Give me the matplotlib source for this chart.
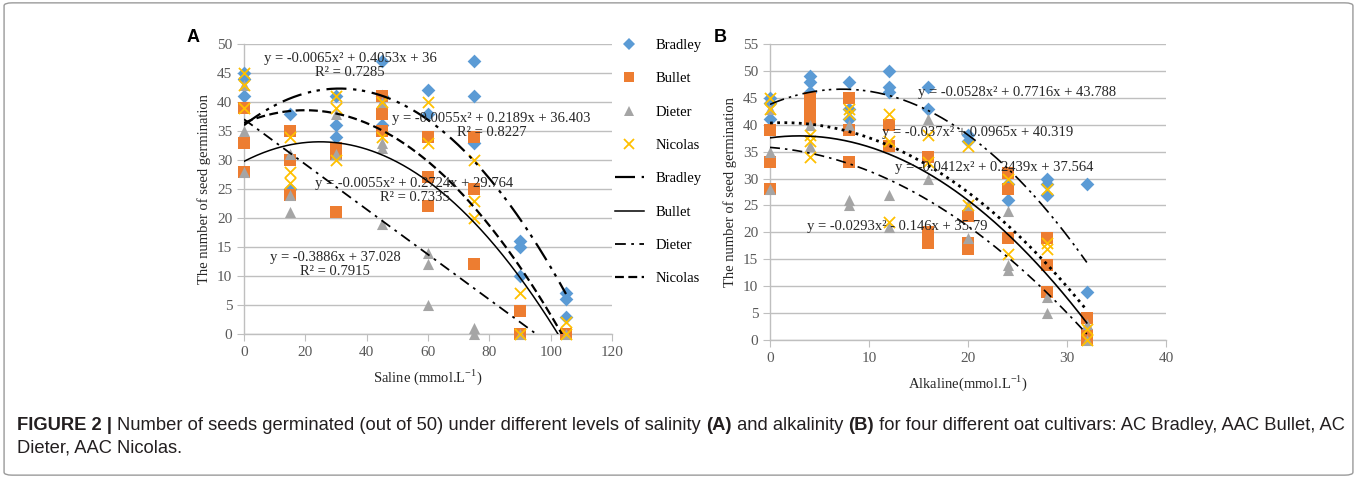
import matplotlib
matplotlib.use('Agg')
import numpy as np
import matplotlib.pyplot as plt
from matplotlib.lines import Line2D
from matplotlib.patches import FancyBboxPatch

plt.rcParams['font.family'] = ['Liberation Serif', 'DejaVu Serif']
plt.rcParams['mathtext.fontset'] = 'custom'
plt.rcParams['mathtext.rm'] = 'Liberation Serif'

# ---- data ----
saline = [0, 15, 30, 45, 60, 75, 90, 105]
bradley_sal = [[45, 44, 41], [38, 25], [41, 36, 34], [47, 41, 36], [42, 38], [47, 41, 33], [16, 15, 10], [7, 6, 3]]
bullet_sal = [[39, 33, 28], [35, 30, 24], [32, 31, 21], [41, 38, 35], [34, 27, 22], [34, 25, 12], [4, 0], [0]]
dieter_sal = [[43, 35, 28], [31, 24, 21], [38, 31], [40, 33, 32, 19], [14, 12, 5], [1, 0], [0], [0]]
nicolas_sal = [[45, 43, 39], [34, 28, 26], [41, 39, 30], [40, 34], [40, 33], [30, 23, 20], [7, 0], [2, 0]]

alkaline = [0, 4, 8, 12, 16, 20, 24, 28, 32]
bradley_alk = [[45, 44, 41], [49, 48, 46], [48, 43, 41], [50, 47, 46], [47, 43], [38, 37], [29, 26], [30, 29, 27], [29, 9]]
bullet_alk = [[39, 33, 28], [45, 43, 41], [45, 39, 33], [40, 36], [34, 20, 18], [23, 18, 17], [31, 28, 19], [19, 14, 9], [4, 1, 0]]
dieter_alk = [[43, 35, 28], [40, 36], [40, 26, 25], [27, 21], [41, 30], [25, 19], [24, 14, 13], [8, 5], [3, 0]]
nicolas_alk = [[45, 43], [38, 37, 34], [43, 42], [42, 37, 22], [38, 33], [36, 25], [30, 16], [28, 18, 17], [2, 0]]

# trend line coefficients (a, b, c) for y = a x^2 + b x + c
trend_sal = [[-0.0065, 0.4053, 36.0], [-0.0055, 0.2724, 29.764], [0.0, -0.3886, 37.028], [-0.0055, 0.2189, 36.403]]
trend_alk = [[-0.0528, 0.7716, 43.788], [-0.0412, 0.2439, 37.564], [-0.0293, -0.146, 35.79], [-0.037, 0.0965, 40.319]]

eq_sal = ['y = -0.0065x² + 0.4053x + 36\nR² = 0.7285',
          'y = -0.0055x² + 0.2724x + 29.764\nR² = 0.7335',
          'y = -0.3886x + 37.028\nR² = 0.7915',
          'y = -0.0055x² + 0.2189x + 36.403\nR² = 0.8227']
eq_sal_pos = [(34.6, 46.3), (55.6, 24.8), (29.7, 11.9), (80.7, 36.0)]
eq_alk = ['y = -0.0528x² + 0.7716x + 43.788',
          'y = -0.0412x² + 0.2439x + 37.564',
          'y = -0.0293x² - 0.146x + 35.79',
          'y = -0.037x² + 0.0965x + 40.319']
eq_alk_pos = [(25.0, 46.0), (22.6, 32.0), (12.9, 21.1), (21.0, 38.6)]

names = ['Bradley', 'Bullet', 'Dieter', 'Nicolas']
colors = ['#5b9bd5', '#ed7d31', '#a5a5a5', '#ffc000']
markers = ['D', 's', '^', 'x']
msizes = [7, 8, 8, 8]

dash_b = (0, (9, 3, 1.5, 2.5, 1.5, 3))
dash_d = (0, (6, 3, 1.5, 3))
styles_sal = [dash_b, '-', dash_d, (0, (4, 2))]
styles_alk = [dash_b, '-', dash_d, (0, (1, 1.6))]
widths_sal = [1.6, 1.1, 1.3, 1.6]
widths_alk = [1.2, 1.2, 1.2, 2.0]

grey_txt = '#595959'


def setup(ax, xmax, xstep, ymax):
    ax.set_xlim(0, xmax)
    ax.set_ylim(0, ymax)
    ax.set_xticks(np.arange(0, xmax + 1, xstep))
    ax.set_yticks(np.arange(0, ymax + 1, 5))
    ax.grid(axis='y', color='#bfbfbf', lw=1)
    ax.set_axisbelow(True)
    for s in ['top', 'right']:
        ax.spines[s].set_visible(False)
    for s in ['left', 'bottom']:
        ax.spines[s].set_color('#bfbfbf')
        ax.spines[s].set_linewidth(1)
    ax.tick_params(direction='out', length=5, color='#bfbfbf', labelcolor=grey_txt, labelsize=11)
    ax.set_ylabel('The number of seed germination', fontsize=10.5, color='#262626')


def draw(ax, levels, series, trends, styles, widths, xend):
    for i, vals in enumerate(series):
        xs = [lv for lv, v in zip(levels, vals) for _ in v]
        ys = [y for v in vals for y in v]
        if markers[i] == 'x':
            ax.scatter(xs, ys, marker='x', s=msizes[i] ** 2, color=colors[i], lw=1.3, zorder=3, clip_on=False)
        else:
            ax.scatter(xs, ys, marker=markers[i], s=msizes[i] ** 2, color=colors[i], lw=0, zorder=3, clip_on=False)
    xx = np.linspace(0, xend, 300)
    for i, (a, b, c) in enumerate(trends):
        ax.plot(xx, a * xx ** 2 + b * xx + c, color='black', ls=styles[i], lw=widths[i], zorder=4)


fig = plt.figure(figsize=(13.57, 4.78), dpi=100)
axA = fig.add_axes([244 / 1357, 1 - 334 / 478, 368 / 1357, 290 / 478])
axB = fig.add_axes([770 / 1357, 1 - 340 / 478, 396 / 1357, 296 / 478])

setup(axA, 120, 20, 50)
draw(axA, saline, [bradley_sal, bullet_sal, dieter_sal, nicolas_sal], trend_sal, styles_sal, widths_sal, 105)
for txt, (x, y) in zip(eq_sal, eq_sal_pos):
    axA.text(x, y, txt, ha='center', va='center', fontsize=10.5, color='#262626', linespacing=1.1, zorder=5)
axA.set_xlabel('Saline (mmol.L$^{\\mathrm{-1}}$)', fontsize=10.5, color='#262626', labelpad=6)

setup(axB, 40, 10, 55)
draw(axB, alkaline, [bradley_alk, bullet_alk, dieter_alk, nicolas_alk], trend_alk, styles_alk, widths_alk, 32)
for txt, (x, y) in zip(eq_alk, eq_alk_pos):
    axB.text(x, y, txt, ha='center', va='center', fontsize=10.5, color='#262626', zorder=5)
axB.set_xlabel('Alkaline(mmol.L$^{\\mathrm{-1}}$)', fontsize=10.5, color='#262626', labelpad=6)

handles = []
for i in range(4):
    if markers[i] == 'x':
        handles.append(Line2D([], [], ls='none', marker='x', ms=7, color=colors[i], mew=1.3))
    else:
        handles.append(Line2D([], [], ls='none', marker=markers[i], ms=msizes[i] - 1, color=colors[i], mew=0))
for i in range(4):
    handles.append(Line2D([], [], color='black', ls=styles_sal[i], lw=widths_sal[i]))
fig.legend(handles, names + names, loc='upper left', bbox_to_anchor=(609 / 1357, 1 - 33 / 478),
           frameon=False, fontsize=10.5, labelspacing=1.38, handlelength=2.0, borderpad=0.4,
           borderaxespad=0, handletextpad=0.8)

fig.text(193 / 1357, 1 - 37 / 478, 'A', fontsize=13, fontweight='bold', family='Liberation Sans', ha='center', va='center')
fig.text(720 / 1357, 1 - 37 / 478, 'B', fontsize=13, fontweight='bold', family='Liberation Sans', ha='center', va='center')

# caption with mixed bold / regular pieces
renderer = fig.canvas.get_renderer()
cap_lines = [
    [('FIGURE 2 | ', 'bold'), ('Number of seeds germinated (out of 50) under different levels of salinity ', 'normal'),
     ('(A)', 'bold'), (' and alkalinity ', 'normal'), ('(B)', 'bold'),
     (' for four different oat cultivars: AC Bradley, AAC Bullet, AC', 'normal')],
    [('Dieter, AAC Nicolas.', 'normal')],
]
for row, pieces in zip([425, 448], cap_lines):
    xpx = 17
    for s, w in pieces:
        t = fig.text(xpx / 1357, 1 - row / 478, s, fontsize=13.2, fontweight=w, family='Liberation Sans',
                     va='center', ha='left', color='#231f20')
        xpx += t.get_window_extent(renderer).width

fig.patches.append(FancyBboxPatch((0.003, 0.006), 0.994, 0.988, boxstyle='round,pad=0,rounding_size=0.006',
                                  transform=fig.transFigure, fill=False, ec='#9a9a9a', lw=1))

fig.savefig('out.png', dpi=100)
